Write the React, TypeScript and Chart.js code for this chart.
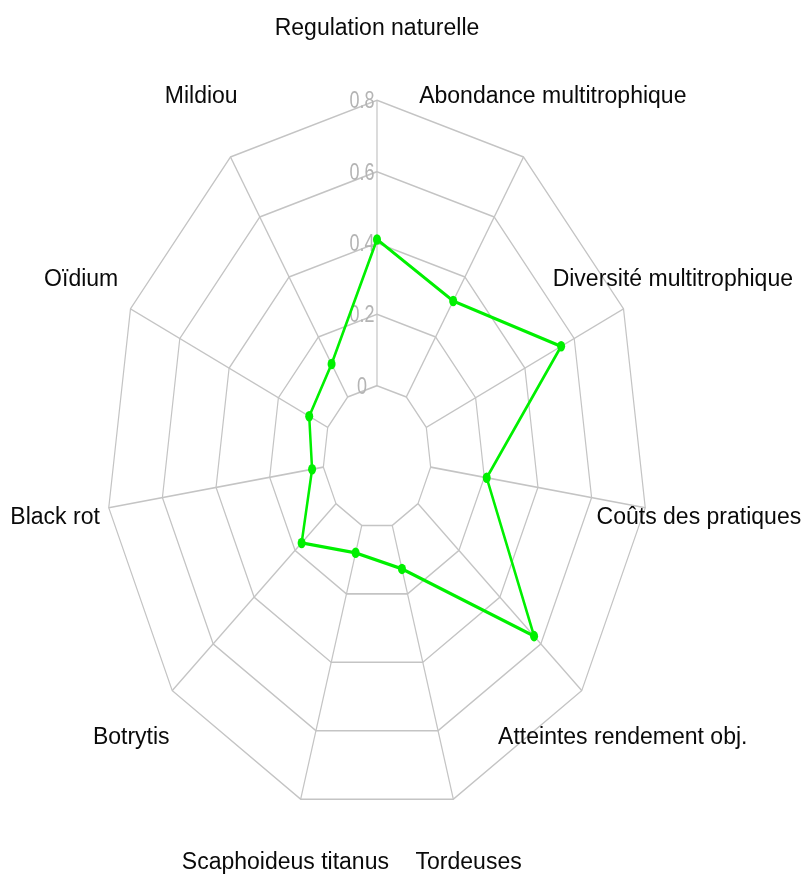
import React, { useEffect, useRef } from "react";
import { Chart, registerables } from "chart.js";

Chart.register(...registerables);

const categories = [
  "Regulation naturelle",
  "Abondance multitrophique",
  "Diversité multitrophique",
  "Coûts des pratiques",
  "Atteintes rendement obj.",
  "Tordeuses",
  "Scaphoideus titanus",
  "Botrytis",
  "Black rot",
  "Oïdium",
  "Mildiou",
];
const values = [0.41, 0.32, 0.547, 0.209, 0.567, 0.127, 0.08, 0.168, 0.042, 0.075, 0.11];
const tickValues = [0, 0.2, 0.4, 0.6, 0.8];
const tickLabels = ["0", "0.2", "0.4", "0.6", "0.8"];
const scaleMin = -0.2;
const scaleMax = 0.8;

const W = 804;
const H = 880;
const K = 1.316; // vertical stretch of the plot
const GREEN = "rgb(0,240,0)";
const GRID = "#c4c4c4";
const TICK_COLOR = "#b4b4b4";
const FONT = '"Liberation Sans", Arial, Helvetica, sans-serif';

const stretchPlugin = {
  id: "stretchRadar",
  beforeDraw(chart: any) {
    const s = chart.scales.r;
    const ctx = chart.ctx;
    ctx.save();
    ctx.translate(s.xCenter, s.yCenter);
    ctx.scale(1, K);
    ctx.translate(-s.xCenter, -s.yCenter);
  },
  beforeDatasetsDraw(chart: any) {
    const s = chart.scales.r;
    const ctx = chart.ctx;
    ctx.save();
    ctx.strokeStyle = GRID;
    ctx.lineWidth = 1.2;
    for (let i = 0; i < categories.length; i++) {
      const a = s.getPointPositionForValue(i, tickValues[0]);
      const b = s.getPointPositionForValue(i, scaleMax);
      ctx.beginPath();
      ctx.moveTo(a.x, a.y);
      ctx.lineTo(b.x, b.y);
      ctx.stroke();
    }
    ctx.fillStyle = TICK_COLOR;
    ctx.font = `18px ${FONT}`;
    ctx.textAlign = "center";
    ctx.textBaseline = "middle";
    tickValues.forEach((v, idx) => {
      const d = s.getDistanceFromCenterForValue(v);
      ctx.fillText(tickLabels[idx], s.xCenter - 15, s.yCenter - d + 1.2);
    });
    ctx.restore();
  },
  afterDraw(chart: any) {
    const s = chart.scales.r;
    const ctx = chart.ctx;
    ctx.restore();
    ctx.save();
    ctx.fillStyle = "#0a0a0a";
    ctx.font = `23px ${FONT}`;
    ctx.textAlign = "center";
    ctx.textBaseline = "middle";
    categories.forEach((label, i) => {
      const p = s.getPointPosition(i, s.drawingArea * 1.2);
      let y = s.yCenter + (p.y - s.yCenter) * K;
      y = Math.min(y, H - 17);
      ctx.fillText(label, p.x, y);
    });
    ctx.restore();
  },
};

export default function App() {
  const ref = useRef<HTMLCanvasElement | null>(null);

  useEffect(() => {
    if (!ref.current) return;
    const chart = new Chart(ref.current, {
      type: "radar",
      data: {
        labels: categories,
        datasets: [
          {
            data: values,
            borderColor: GREEN,
            backgroundColor: GREEN,
            borderWidth: 2.5,
            pointRadius: 4,
            pointBackgroundColor: GREEN,
            pointBorderWidth: 0,
            fill: false,
            tension: 0,
          },
        ],
      },
      options: {
        responsive: false,
        animation: false,
        layout: { padding: { left: 106, right: 156, top: 186, bottom: 152 } },
        plugins: {
          legend: { display: false },
          tooltip: { enabled: false },
        },
        scales: {
          r: {
            min: scaleMin,
            max: scaleMax,
            ticks: { display: false, stepSize: 0.2 },
            pointLabels: { display: false },
            angleLines: { display: false },
            grid: {
              color: (c: any) => (c.tick && c.tick.value < -0.1 ? "rgba(0,0,0,0)" : GRID),
              lineWidth: 1.2,
            },
          },
        },
      },
      plugins: [stretchPlugin],
    } as any);
    return () => chart.destroy();
  }, []);

  return (
    <div style={{ position: "absolute", left: 0, top: 0, width: W, height: H, background: "#fff" }}>
      <canvas ref={ref} width={W} height={H} style={{ display: "block" }} />
    </div>
  );
}
